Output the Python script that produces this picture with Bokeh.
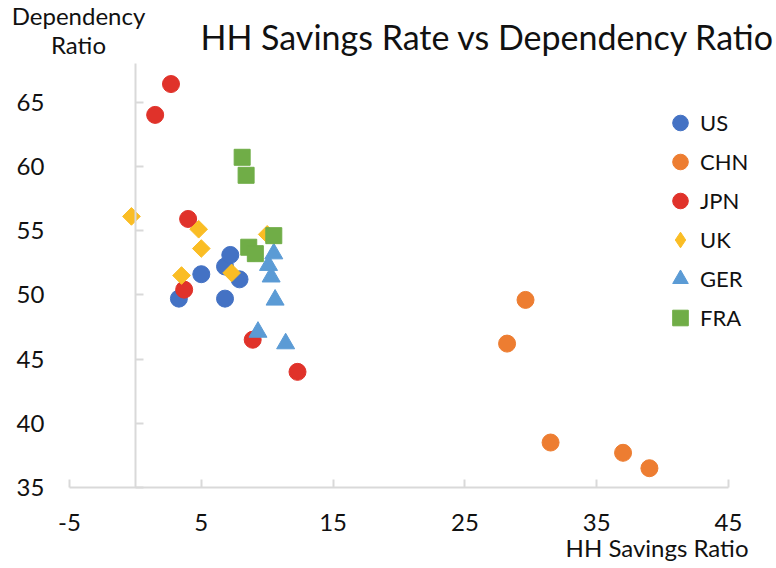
import math
from bokeh.plotting import figure
from bokeh.models import Label, Legend, LegendItem, FixedTicker, Range1d
from bokeh.embed import file_html
from bokeh.resources import INLINE

# ---- data ----
us_x = [3.3, 5.0, 6.8, 6.8, 7.2, 7.9]
us_y = [49.7, 51.6, 49.7, 52.2, 53.1, 51.2]
chn_x = [29.6, 28.2, 31.5, 37.0, 39.0]
chn_y = [49.6, 46.2, 38.5, 37.7, 36.5]
jpn_x = [2.7, 1.5, 4.0, 3.7, 8.9, 12.3]
jpn_y = [66.4, 64.0, 55.9, 50.4, 46.5, 44.0]
uk_x = [-0.3, 4.8, 5.0, 3.5, 7.3, 10.0]
uk_y = [56.1, 55.1, 53.6, 51.5, 51.7, 54.7]
ger_x = [10.5, 10.1, 10.3, 10.6, 9.3, 11.4]
ger_y = [53.2, 52.3, 51.4, 49.6, 47.1, 46.2]
fra_x = [8.1, 8.4, 8.6, 9.1, 10.5]
fra_y = [60.7, 59.3, 53.7, 53.2, 54.6]

x_ticks = [-5, 5, 15, 25, 35, 45]
y_ticks = [35, 40, 45, 50, 55, 60, 65]
X_MIN, X_MAX = -5, 45
Y_MIN, Y_MAX = 35, 68

C_US, C_CHN, C_JPN = "#4472C4", "#ED7D31", "#E0322A"
C_UK, C_GER, C_FRA = "#FABD24", "#5B9BD5", "#70AD47"
FONT = "Lato"
TXT = "#111111"
AX = "#D9D9D9"

# ---- layout (pixels): plot area inside the canvas ----
W, H = 776, 568
PL, PR, PT, PB = 69, 728, 63, 487   # plot-area edges
sx = (PR - PL) / (X_MAX - X_MIN)
sy = (PB - PT) / (Y_MAX - Y_MIN)
x_range = Range1d(X_MIN - PL / sx, X_MAX + (W - PR) / sx)
y_range = Range1d(Y_MIN - (H - PB) / sy, Y_MAX + PT / sy)

p = figure(width=W, height=H, x_range=x_range, y_range=y_range,
           output_backend="svg", toolbar_location=None, title=None,
           min_border=0, min_border_left=0, min_border_right=0,
           min_border_top=0, min_border_bottom=0)
p.outline_line_color = None
p.xgrid.visible = False
p.ygrid.visible = False

xa = p.xaxis[0]
xa.fixed_location = Y_MIN
xa.bounds = (X_MIN, X_MAX)
xa.ticker = FixedTicker(ticks=x_ticks)
xa.major_label_overrides = {t: str(t) for t in x_ticks}
xa.axis_line_color = AX
xa.axis_line_width = 2
xa.major_tick_line_color = AX
xa.major_tick_line_width = 2
xa.major_tick_in = 8
xa.major_tick_out = 0
xa.minor_tick_line_color = None
xa.major_label_standoff = 26
xa.major_label_text_font = FONT
xa.major_label_text_font_size = "24px"
xa.major_label_text_color = TXT

ya = p.yaxis[0]
ya.fixed_location = 0
ya.bounds = (Y_MIN, Y_MAX)
ya.ticker = FixedTicker(ticks=y_ticks)
ya.axis_line_color = AX
ya.axis_line_width = 2
ya.major_tick_line_color = AX
ya.major_tick_line_width = 2
ya.major_tick_in = 8
ya.major_tick_out = 0
ya.minor_tick_line_color = None
ya.major_label_standoff = 91
ya.major_label_text_font = FONT
ya.major_label_text_font_size = "24px"
ya.major_label_text_color = TXT

r_us = p.scatter(us_x, us_y, marker="circle", size=17, color=C_US)
r_chn = p.scatter(chn_x, chn_y, marker="circle", size=17, color=C_CHN)
r_jpn = p.scatter(jpn_x, jpn_y, marker="circle", size=17, color=C_JPN)
# legend key for the UK series: diamond shape, zero-size points (draws nothing)
r_uk_key = p.scatter(uk_x, uk_y, marker="diamond", size=0, color=C_UK)
r_uk = p.scatter(uk_x, uk_y, marker="square", size=12.5, angle=math.pi / 4, color=C_UK)
r_ger = p.scatter(ger_x, ger_y, marker="triangle", size=18, color=C_GER)
r_fra = p.scatter(fra_x, fra_y, marker="square", size=16, color=C_FRA)

lg = Legend(items=[LegendItem(label=l, renderers=[r]) for l, r in
                   [("US", r_us), ("CHN", r_chn), ("JPN", r_jpn),
                    ("UK", r_uk_key), ("GER", r_ger), ("FRA", r_fra)]],
            location=(660, 231), glyph_width=40, glyph_height=39, spacing=0,
            label_standoff=0, padding=0, margin=0,
            border_line_color=None, background_fill_alpha=0,
            label_text_font=FONT, label_text_font_size="22px",
            label_text_color=TXT)
p.add_layout(lg)

def lbl(text, x, y, size, align="left"):
    p.add_layout(Label(x=x, y=y, x_units="screen", y_units="screen", text=text,
                       text_font=FONT, text_font_size=size, text_color=TXT,
                       text_align=align, text_baseline="alphabetic"))

lbl("HH Savings Rate vs Dependency Ratio", 200, H - 36, "34px")
lbl("HH Savings Ratio", 748, H - 547, "24px", "right")
lbl("Dependency", 78, H - 15, "24px", "center")
lbl("Ratio", 78, H - 44, "24px", "center")

open("out.html", "w").write(file_html(p, INLINE))
